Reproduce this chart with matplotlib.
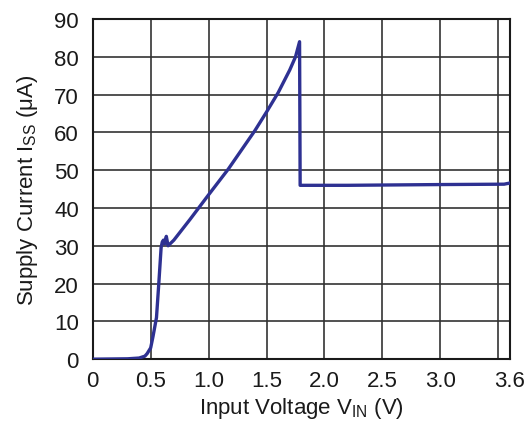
import matplotlib
matplotlib.use("Agg")
import matplotlib.pyplot as plt

# 读出的曲线数据
vin = [0.0, 0.3, 0.4, 0.45, 0.47, 0.5, 0.52, 0.55, 0.57, 0.59, 0.6, 0.61, 0.62, 0.635, 0.65,
       0.7, 0.84, 1.0, 1.17, 1.4, 1.5, 1.6, 1.7, 1.75, 1.785, 1.79, 2.2, 3.0, 3.55, 3.6]
iss = [0.0, 0.1, 0.3, 0.8, 1.5, 3.0, 6.0, 11.0, 20.0, 29.5, 31.0, 31.5, 30.5, 32.5, 30.0,
       31.5, 37.0, 43.5, 50.3, 60.5, 65.4, 70.5, 76.5, 80.0, 84.0, 46.0, 46.0, 46.2, 46.3, 46.6]

xticks = [0, 0.5, 1.0, 1.5, 2.0, 2.5, 3.0, 3.6]
xlabels = ["0", "0.5", "1.0", "1.5", "2.0", "2.5", "3.0", "3.6"]
xgrid = [0.5, 1.0, 1.5, 2.0, 2.5, 3.0, 3.5]
yticks = list(range(0, 100, 10))

plt.rcParams['font.family'] = ['Liberation Sans', 'DejaVu Sans']
fig = plt.figure(figsize=(5.3, 4.35), dpi=100)
ax = fig.add_axes([0.175, 0.172, 0.787, 0.782])

for g in xgrid:
    ax.axvline(g, color='#333333', lw=1.2, zorder=1)
for g in yticks[1:-1]:
    ax.axhline(g, color='#333333', lw=1.2, zorder=1)

ax.plot(vin, iss, color='#2E3192', lw=2.4, zorder=3, solid_joinstyle='round')

ax.set_xlim(0, 3.6)
ax.set_ylim(0, 90)
ax.set_xticks(xticks)
ax.set_xticklabels(xlabels)
ax.set_yticks(yticks)
ax.tick_params(length=0, labelsize=16, colors='#1a1a1a')
ax.tick_params(axis='x', pad=8)
ax.tick_params(axis='y', pad=10)
for s in ax.spines.values():
    s.set_linewidth(1.5)
    s.set_color('#1a1a1a')

ax.set_xlabel(r'Input Voltage V$_{\mathregular{IN}}$ (V)', fontsize=16, labelpad=3, color='#1a1a1a')
ax.set_ylabel(r'Supply Current I$_{\mathregular{SS}}$ (μA)', fontsize=16, labelpad=10, color='#1a1a1a')

fig.savefig('out.png', dpi=100)
